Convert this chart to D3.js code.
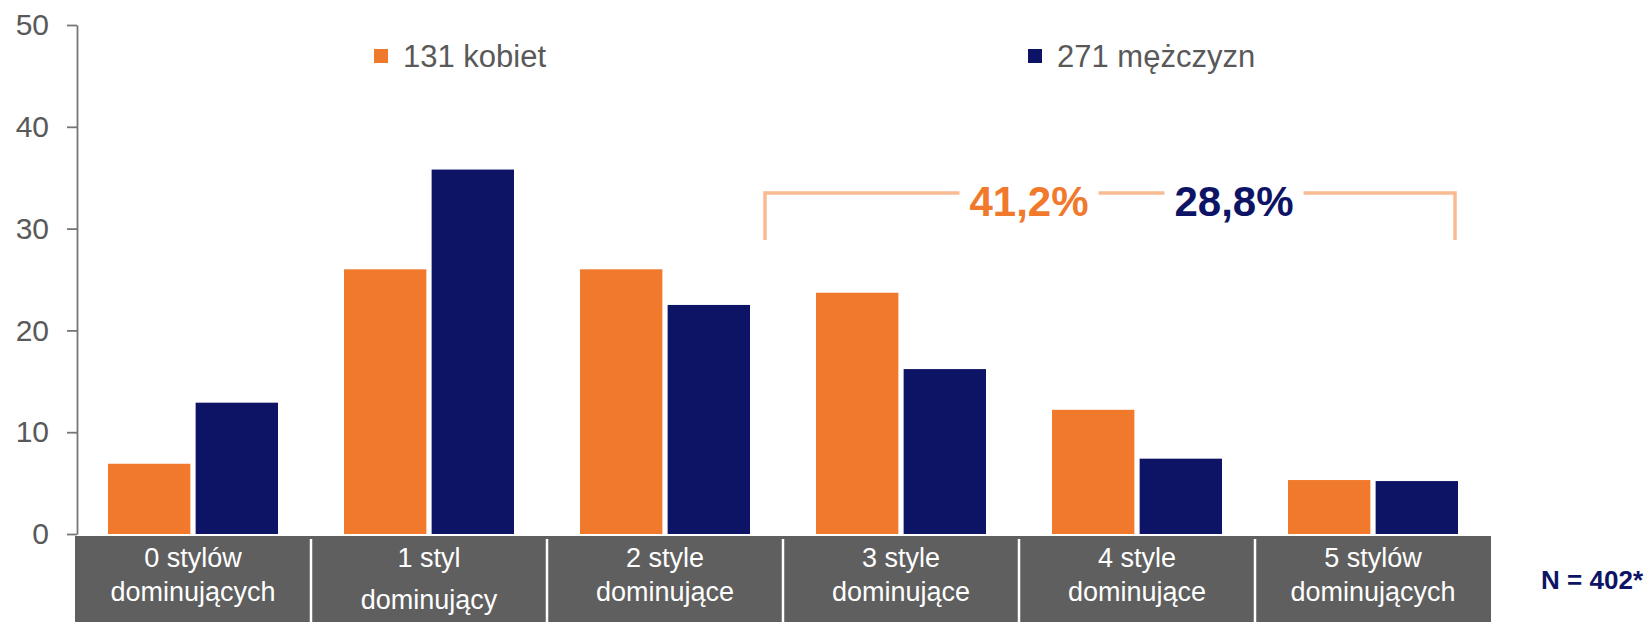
<!DOCTYPE html>
<html lang="pl">
<head>
<meta charset="utf-8">
<title>Style dominujące</title>
<script src="https://cdn.jsdelivr.net/npm/d3@7"></script>
<style>
  body { margin: 0; background: #fff; }
  text { font-family: "Liberation Sans", Arial, sans-serif; }
</style>
</head>
<body>
<script>
// data
var categories = [
    ["0 stylów", "dominujących"],
    ["1 styl", "dominujący"],
    ["2 style", "dominujące"],
    ["3 style", "dominujące"],
    ["4 style", "dominujące"],
    ["5 stylów", "dominujących"]
];
var seriesNames = ["131 kobiet", "271 mężczyzn"];
var women = [6.9, 26.0, 26.0, 23.7, 12.2, 5.3];
var men = [12.9, 35.8, 22.5, 16.2, 7.4, 5.2];
var yTicks = [0, 10, 20, 30, 40, 50];
var shares = ["41,2%", "28,8%"];   // share of 3-5 styles, women / men
var note = "N = 402*";

var w = 1646, h = 622;
var orange = "#f1792b", navy = "#0e1465", grey = "#5f5f5f", textGrey = "#595959";

var svg = d3.select("body").append("svg")
    .attr("width", w)
    .attr("height", h);

// scales
var catIdx = d3.range(categories.length);
var x = d3.scaleBand().domain(catIdx).range([75, 1491]);
var xs = d3.scaleBand().domain([0, 1]).range([33, 203]).paddingInner(0.06);
var y = d3.scaleLinear().domain([0, 50]).range([534, 25]);

// category band at the bottom
svg.append("rect")
    .attr("x", x.range()[0]).attr("y", 536)
    .attr("width", x.range()[1] - x.range()[0]).attr("height", h - 536)
    .attr("fill", grey);

svg.selectAll("line.div")
    .data(catIdx.slice(1))
    .enter().append("line")
    .attr("class", "div")
    .attr("x1", function(d) { return x(d); })
    .attr("x2", function(d) { return x(d); })
    .attr("y1", 539).attr("y2", h)
    .attr("stroke", "#fff").attr("stroke-width", 2.5);

var lab = svg.selectAll("text.cat")
    .data(catIdx)
    .enter().append("text")
    .attr("class", "cat")
    .attr("text-anchor", "middle")
    .attr("fill", "#fff")
    .style("font-size", "27px");
lab.append("tspan")
    .attr("x", function(d) { return x(d) + x.bandwidth() / 2; })
    .attr("y", 567)
    .text(function(d) { return categories[d][0]; });
lab.append("tspan")
    .attr("x", function(d) { return x(d) + x.bandwidth() / 2; })
    .attr("y", function(d) { return d === 1 ? 609 : 601; })
    .text(function(d) { return categories[d][1]; });

// bars
var groups = svg.selectAll("g.grp")
    .data(catIdx)
    .enter().append("g")
    .attr("class", "grp")
    .attr("transform", function(d) { return "translate(" + x(d) + ",0)"; });

groups.selectAll("rect")
    .data(function(d) { return [women[d], men[d]]; })
    .enter().append("rect")
    .attr("x", function(d, i) { return xs(i); })
    .attr("y", function(d) { return y(d); })
    .attr("width", xs.bandwidth())
    .attr("height", function(d) { return y(0) - y(d); })
    .attr("fill", function(d, i) { return i === 0 ? orange : navy; });

// y axis
var yAxis = d3.axisLeft(y)
    .tickValues(yTicks)
    .tickSize(10)
    .tickSizeOuter(0)
    .tickPadding(18);

var ga = svg.append("g")
    .attr("transform", "translate(77,0)")
    .call(yAxis);
ga.select(".domain").attr("stroke", "#767676").attr("stroke-width", 1.8);
ga.selectAll(".tick line").attr("stroke", "#767676").attr("stroke-width", 1.8);
ga.selectAll(".tick text")
    .attr("fill", textGrey)
    .style("font-size", "30px")
    .style("font-family", "'Liberation Sans', Arial, sans-serif");

// legend
var legX = [374, 1028];
var leg = svg.selectAll("g.leg")
    .data(seriesNames)
    .enter().append("g")
    .attr("class", "leg")
    .attr("transform", function(d, i) { return "translate(" + legX[i] + ",0)"; });
leg.append("rect")
    .attr("x", 0).attr("y", 49)
    .attr("width", 14).attr("height", 14)
    .attr("fill", function(d, i) { return i === 0 ? orange : navy; });
leg.append("text")
    .attr("x", 29).attr("y", 67)
    .attr("fill", textGrey)
    .style("font-size", "31px")
    .text(function(d) { return d; });

// bracket over 3-5 styles
var bLeft = x(3) - 18, bRight = x(5) + xs(1) + xs.bandwidth() - 3;
var bTop = 193, bBottom = 240;
var shareX = [bLeft + 264, bLeft + 469];
var shareTxt = svg.selectAll("text.share")
    .data(shares)
    .enter().append("text")
    .attr("class", "share")
    .attr("x", function(d, i) { return shareX[i]; })
    .attr("y", 216)
    .attr("text-anchor", "middle")
    .attr("fill", function(d, i) { return i === 0 ? orange : navy; })
    .style("font-size", "42px")
    .style("font-weight", "bold")
    .text(function(d) { return d; });

var half = [];
shareTxt.each(function(d, i) { half.push(this.getComputedTextLength() / 2 + 10); });

var path = d3.path();
path.moveTo(bLeft, bBottom);
path.lineTo(bLeft, bTop);
path.lineTo(shareX[0] - half[0], bTop);
path.moveTo(shareX[0] + half[0], bTop);
path.lineTo(shareX[1] - half[1], bTop);
path.moveTo(shareX[1] + half[1], bTop);
path.lineTo(bRight, bTop);
path.lineTo(bRight, bBottom);

svg.append("path")
    .attr("d", path.toString())
    .attr("fill", "none")
    .attr("stroke", "#f9bc92")
    .attr("stroke-width", 3.5);

// sample size note
svg.append("text")
    .attr("x", 1643).attr("y", 589)
    .attr("text-anchor", "end")
    .attr("fill", navy)
    .style("font-size", "26px")
    .style("font-weight", "bold")
    .text(note);
</script>
</body>
</html>
